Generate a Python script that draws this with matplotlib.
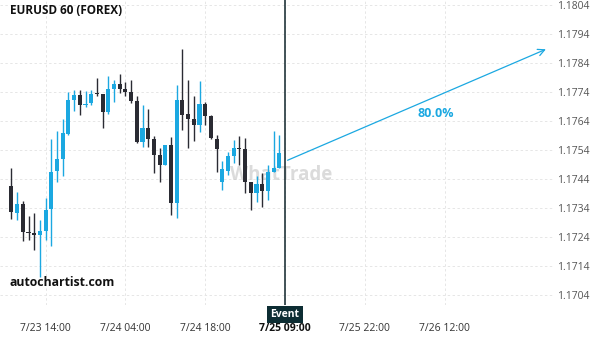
import numpy as np
import matplotlib
matplotlib.use("Agg")
import matplotlib.pyplot as plt
from matplotlib.transforms import blended_transform_factory

plt.rcParams['font.family'] = ['Open Sans', 'DejaVu Sans']

# EURUSD hourly candles, first candle 7/23 08:00
opens = [1.17415, 1.17323, 1.17355, 1.17256, 1.17253, 1.17247, 1.17261, 1.17337,
         1.17468, 1.17509, 1.17595, 1.17711, 1.17729, 1.17695, 1.17702, 1.17735,
         1.17732, 1.17671, 1.17750, 1.17766, 1.17749, 1.17739, 1.17708, 1.17568,
         1.17615, 1.17578, 1.17522, 1.17488, 1.17556, 1.17357, 1.17711, 1.17663,
         1.17646, 1.17626, 1.17699, 1.17657, 1.17579, 1.17431, 1.17469, 1.17519,
         1.17546, 1.17542, 1.17430, 1.17392, 1.17422, 1.17400, 1.17464, 1.17478]
closes = [1.17326, 1.17355, 1.17257, 1.17253, 1.17247, 1.17260, 1.17332, 1.17463,
          1.17508, 1.17597, 1.17711, 1.17729, 1.17695, 1.17697, 1.17732, 1.17732,
          1.17671, 1.17749, 1.17766, 1.17750, 1.17740, 1.17709, 1.17568, 1.17615,
          1.17578, 1.17523, 1.17488, 1.17556, 1.17357, 1.17711, 1.17661, 1.17647,
          1.17626, 1.17699, 1.17657, 1.17581, 1.17543, 1.17474, 1.17518, 1.17546,
          1.17542, 1.17430, 1.17392, 1.17422, 1.17400, 1.17466, 1.17478, 1.17529]
highs = [1.17477, 1.17394, 1.17363, 1.17311, 1.17324, 1.17300, 1.17376, 1.17579,
         1.17607, 1.17648, 1.17739, 1.17748, 1.17748, 1.17745, 1.17748, 1.17787,
         1.17734, 1.17794, 1.17783, 1.17801, 1.17776, 1.17780, 1.17727, 1.17694,
         1.17680, 1.17589, 1.17547, 1.17558, 1.17584, 1.17765, 1.17887, 1.17783,
         1.17725, 1.17779, 1.17704, 1.17660, 1.17593, 1.17501, 1.17532, 1.17573,
         1.17587, 1.17581, 1.17431, 1.17449, 1.17461, 1.17489, 1.17607, 1.17593]
lows = [1.17303, 1.17300, 1.17227, 1.17231, 1.17196, 1.17103, 1.17229, 1.17211,
        1.17429, 1.17451, 1.17592, 1.17676, 1.17662, 1.17688, 1.17696, 1.17727,
        1.17617, 1.17665, 1.17707, 1.17737, 1.17726, 1.17702, 1.17564, 1.17549,
        1.17551, 1.17462, 1.17431, 1.17488, 1.17317, 1.17306, 1.17610, 1.17547,
        1.17570, 1.17602, 1.17627, 1.17579, 1.17463, 1.17401, 1.17455, 1.17494,
        1.17487, 1.17392, 1.17334, 1.17361, 1.17342, 1.17369, 1.17464, 1.17478]

tick_pos = [6, 20, 34, 48, 62, 76]
tick_labels = ['7/23 14:00', '7/24 04:00', '7/24 18:00', '7/25 09:00', '7/25 22:00', '7/26 12:00']
price_ticks = [1.1704, 1.1714, 1.1724, 1.1734, 1.1744, 1.1754, 1.1764, 1.1774, 1.1784, 1.1794, 1.1804]

event_idx = 48
forecast_start = (48, 1.17501)
forecast_end = (94.2, 1.17891)
forecast_label = '80.0%'

bull = '#1ba8e1'
bear = '#2a2b33'

fig = plt.figure(figsize=(6, 3.4), dpi=100)
ax = fig.add_axes([0, 1 - 305 / 340, 553 / 600, 305 / 340])

x = np.arange(len(opens))
for i in x:
    o, c, h, l = opens[i], closes[i], highs[i], lows[i]
    col = bull if c >= o else bear
    ax.vlines(i, l, h, color=col, lw=1.0, zorder=3)
    lo, hi = min(o, c), max(o, c)
    ax.bar(i, max(hi - lo, 0.000012), bottom=lo, width=0.72, color=col, zorder=4, linewidth=0)

ax.set_xlim(-2, 95)
ax.set_ylim(1.17006, 1.18057)

ax.set_yticks(price_ticks)
ax.set_yticklabels([f'{p:.4f}' for p in price_ticks])
ax.yaxis.tick_right()
ax.tick_params(axis='y', length=0, pad=3, labelsize=7.5, labelcolor='#555555')
ax.set_xticks(tick_pos)
ax.set_xticklabels(tick_labels)
ax.tick_params(axis='x', length=0, pad=13, labelsize=7.5, labelcolor='#333333')
for lab in ax.get_xticklabels():
    if lab.get_text() == '7/25 09:00':
        lab.set_fontweight('bold')
        lab.set_color('#111111')

ax.grid(True, color='#e6e6e6', linestyle=(0, (2.5, 2.5)), lw=0.7, zorder=0)
for s in ax.spines.values():
    s.set_visible(False)

# event marker
ax.axvline(event_idx, color='#10252b', lw=1.1, zorder=5)
trans = blended_transform_factory(ax.transData, ax.transAxes)
ax.text(event_idx, -0.03, 'Event', transform=trans, ha='center', va='center',
        fontsize=7.5, fontweight='bold', color='white', clip_on=False,
        bbox=dict(boxstyle='square,pad=0.3', fc='#0d2d33', ec='none'))

# forecast arrow
ax.annotate('', xy=forecast_end, xytext=forecast_start,
            arrowprops=dict(arrowstyle='->', color=bull, lw=0.9, mutation_scale=12), zorder=6)
ax.text(74.5, 1.17667, forecast_label, color=bull, fontsize=9, fontweight='bold',
        ha='center', va='center')

# watermark
ax.text(0.508, 0.425, 'WhatTrade', transform=ax.transAxes, ha='center', va='center',
        fontsize=13.5, fontweight='bold', color='#c4c4c4', alpha=0.6, zorder=2)

fig.text(10 / 600, 1 - 10 / 340, 'EURUSD 60 (FOREX)', fontsize=8.5, fontweight='bold',
         color='#111111', ha='left', va='center')
fig.text(10 / 600, 1 - 283 / 340, 'autochartist.com', fontsize=8.8, fontweight='bold',
         color='#111111', ha='left', va='center')

fig.savefig('out.png', dpi=100)
